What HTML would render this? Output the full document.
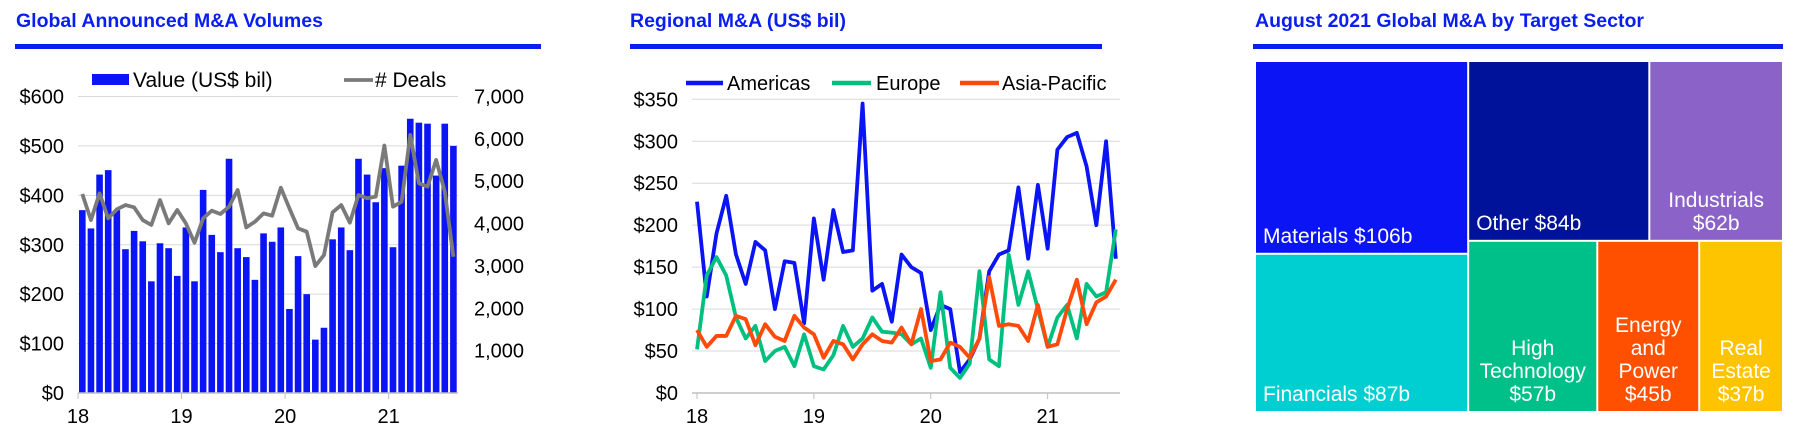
<!DOCTYPE html>
<html><head><meta charset="utf-8"><style>
html,body{margin:0;padding:0;background:#fff;}
body{width:1800px;height:434px;overflow:hidden;position:relative;font-family:"Liberation Sans",Arial,sans-serif;}
svg{position:absolute;left:0;top:0;}
text{font-family:"Liberation Sans",Arial,sans-serif;}
</style></head><body>
<svg id="chart" width="1800" height="434">
<text x="16" y="27" font-size="19.5" font-weight="bold" fill="#0a1ef0">Global Announced M&amp;A Volumes</text>
<rect x="15" y="44" width="526" height="5" fill="#0a1ef0"/>
<text x="630" y="27" font-size="19.5" font-weight="bold" fill="#0a1ef0">Regional M&amp;A (US$ bil)</text>
<rect x="630" y="44" width="472" height="5" fill="#0a1ef0"/>
<text x="1255" y="27" font-size="19.5" font-weight="bold" fill="#0a1ef0">August 2021 Global M&amp;A by Target Sector</text>
<rect x="1253" y="44" width="530" height="5" fill="#0a1ef0"/>
<g id="c1"></g><g id="c2"></g><g id="c3"></g>
</svg>
<script>
const months = 44;
const yearLabels = ["18","19","20","21"];
const volValues = [370,333,442,451,370,291,328,307,226,303,293,237,335,226,411,320,285,474,293,275,229,323,306,335,170,277,200,108,132,311,335,289,474,442,386,455,295,460,555,547,545,440,545,500];
const dealValues = [4698,4083,4713,4123,4336,4438,4383,4083,3967,4556,4004,4320,4004,3547,4123,4304,4226,4399,4793,3909,4044,4241,4186,4847,4359,3886,3808,2996,3255,4265,4438,4020,4675,4597,4635,5842,4399,4517,6094,4950,4872,5502,4753,3216];
const volTicks = [0,100,200,300,400,500,600];
const dealTicks = [1000,2000,3000,4000,5000,6000,7000];
const americas = [228,115,190,235,165,130,180,170,100,157,155,83,208,135,218,168,170,345,122,130,85,165,150,143,75,105,100,25,40,65,145,165,170,245,160,248,172,290,305,310,270,200,300,160];
const europe = [52,140,162,140,90,65,80,38,50,55,32,70,32,28,45,80,55,65,90,73,72,70,58,65,30,120,30,18,35,145,40,32,165,105,145,100,55,90,105,65,130,115,120,195];
const asiaPacific = [75,55,68,68,92,88,57,82,67,62,92,78,70,42,62,58,40,58,70,62,60,78,58,100,38,40,60,55,42,65,138,80,82,80,62,105,55,58,100,135,82,108,115,135];
const regTicks = [0,50,100,150,200,250,300,350];
const sectorNames = ["Materials","Financials","Other","Industrials","High Technology","Energy and Power","Real Estate"];
const sectorValues = [106,87,84,62,57,45,37];

const NS="http://www.w3.org/2000/svg";
function mk(parent,tag,attrs,txt){const e=document.createElementNS(NS,tag);for(const k in attrs)e.setAttribute(k,attrs[k]);if(txt!==undefined)e.textContent=txt;parent.appendChild(e);return e;}
const FS=20;

// ---- Chart 1 ----
(function(){
const g=document.getElementById('c1');
const x0=78,pitch=8.63,yBase=393,yTop=96.5;
const yV=v=>yBase-(v/600)*(yBase-yTop);
const yD=v=>yBase-(v/7000)*(yBase-yTop);
const xC=i=>x0+pitch*(i+0.5);
volTicks.forEach(t=>{
 if(t>0){const l=mk(g,'line',{x1:x0,x2:458,y1:yV(t),y2:yV(t),stroke:'#d9d9d9','stroke-width':1});
 
 }
 const tx=mk(g,'text',{x:64,y:yV(t)+7,'font-size':FS,'text-anchor':'end',fill:'#000'},'$'+t);
 
 
});
dealTicks.forEach(t=>{
 const tx=mk(g,'text',{x:474,y:yD(t)+7,'font-size':FS,fill:'#000'},t.toLocaleString('en-US'));
 
 
});
volValues.forEach((v,i)=>{
 const r=mk(g,'rect',{x:xC(i)-3.3,y:yV(v),width:6.6,height:yBase-yV(v),fill:'#0a14f5'});
 
 
});
const ax=mk(g,'line',{x1:x0,x2:458,y1:yBase,y2:yBase,stroke:'#bfbfbf','stroke-width':1.5});


yearLabels.forEach((lb,k)=>{
 const xx=x0+pitch*12*k;
 mk(g,'line',{x1:xx,x2:xx,y1:yBase,y2:yBase+6,stroke:'#bfbfbf'});
 const tx=mk(g,'text',{x:xx,y:yBase+30,'font-size':FS,'text-anchor':'middle',fill:'#000'},lb);
 
 
});
const pl=mk(g,'polyline',{points:dealValues.map((v,i)=>xC(i)+','+yD(v)).join(' '),fill:'none',stroke:'#7a7a7a','stroke-width':3.8,'stroke-linejoin':'round'});


const lg1=mk(g,'rect',{x:92,y:74,width:37,height:11,fill:'#0a14f5'});


const lt1=mk(g,'text',{x:133,y:87,'font-size':21,fill:'#000'},'Value (US$ bil)');


const lg2=mk(g,'line',{x1:344,x2:373,y1:80,y2:80,stroke:'#7a7a7a','stroke-width':3.8});


const lt2=mk(g,'text',{x:375,y:87,'font-size':21,fill:'#000'},'# Deals');


})();

// ---- Chart 2 ----
(function(){
const g=document.getElementById('c2');
const x0=697,pitch=9.74,yBase=393,yTop=99.3;
const yR=v=>yBase-(v/350)*(yBase-yTop);
const xP=i=>x0+pitch*i;
regTicks.forEach(t=>{
 const l=mk(g,'line',{x1:692,x2:1120,y1:yR(t),y2:yR(t),stroke:t===0?'#bfbfbf':'#d9d9d9','stroke-width':t===0?1.5:1});
 
 
 const tx=mk(g,'text',{x:678,y:yR(t)+7,'font-size':FS,'text-anchor':'end',fill:'#000'},'$'+t);
 
 
});
yearLabels.forEach((lb,k)=>{
 const xx=xP(12*k);
 mk(g,'line',{x1:xx,x2:xx,y1:yBase,y2:yBase+6,stroke:'#bfbfbf'});
 const tx=mk(g,'text',{x:xx,y:yBase+30,'font-size':FS,'text-anchor':'middle',fill:'#000'},lb);
 
 
});
const series=[[americas,'#0a14f5','americas'],[europe,'#00c080','europe'],[asiaPacific,'#ff4a0a','asia-pacific']];
series.forEach(s=>{
 const pl=mk(g,'polyline',{points:s[0].map((v,i)=>xP(i)+','+yR(v)).join(' '),fill:'none',stroke:s[1],'stroke-width':3.8,'stroke-linejoin':'round'});
 
 
});
const legs=[[686,723,727,'Americas','#0a14f5','americas'],[832,871,876,'Europe','#00c080','europe'],[960,999,1002,'Asia-Pacific','#ff4a0a','asia-pacific']];
legs.forEach(L=>{
 const l=mk(g,'line',{x1:L[0],x2:L[1],y1:83,y2:83,stroke:L[4],'stroke-width':4.5});
 
 
 const t=mk(g,'text',{x:L[2],y:90,'font-size':FS,fill:'#000'},L[3]);
 
 
});
})();

// ---- Chart 3 treemap ----
(function(){
const g=document.getElementById('c3');
const X=1255,Y=61,W=528,H=351,gap=2;
const total=sectorValues.reduce((a,b)=>a+b,0);
const colors=['#0a14f5','#00cfd2','#00129a','#8b62c8','#00c08a','#ff5000','#ffc400'];
const c1=sectorValues[0]+sectorValues[1];
const w1=W*c1/total;
const h0=H*sectorValues[0]/c1;
const top=sectorValues[2]+sectorValues[3];
const bot=sectorValues[4]+sectorValues[5]+sectorValues[6];
const rW=W-w1;
const hT=H*top/(top+bot);
const rects=[
 [X,Y,w1,h0],[X,Y+h0,w1,H-h0],
 [X+w1,Y,rW*sectorValues[2]/top,hT],
 [X+w1+rW*sectorValues[2]/top,Y,rW*sectorValues[3]/top,hT]
];
let xx=X+w1;
for(let i=4;i<7;i++){const w=rW*sectorValues[i]/bot;rects.push([xx,Y+hT,w,H-hT]);xx+=w;}
const labels=[
 {lines:[sectorNames[0]+' $'+sectorValues[0]+'b'],anchor:'start',dx:8},
 {lines:[sectorNames[1]+' $'+sectorValues[1]+'b'],anchor:'start',dx:8},
 {lines:[sectorNames[2]+' $'+sectorValues[2]+'b'],anchor:'start',dx:8},
 {lines:['Industrials','$'+sectorValues[3]+'b'],anchor:'middle'},
 {lines:['High','Technology','$'+sectorValues[4]+'b'],anchor:'middle'},
 {lines:['Energy','and','Power','$'+sectorValues[5]+'b'],anchor:'middle'},
 {lines:['Real','Estate','$'+sectorValues[6]+'b'],anchor:'middle'}
];
const names=['materials','financials','other','industrials','high-technology','energy-and-power','real-estate'];
rects.forEach((r,i)=>{
 const rc=mk(g,'rect',{x:r[0]+gap/2,y:r[1]+gap/2,width:r[2]-gap,height:r[3]-gap,fill:colors[i]});
 
 
 const L=labels[i];
 const lh=23;
 const n=L.lines.length;
 const tx=L.anchor==='start'?r[0]+L.dx:r[0]+r[2]/2;
 const yb=r[1]+r[3]-11-(n-1)*lh;
 const t=mk(g,'text',{x:tx,y:yb,'font-size':21,'text-anchor':L.anchor,fill:'#fff'});
 
 
 L.lines.forEach((s,k)=>{mk(t,'tspan',{x:tx,dy:k===0?0:lh},s);});
});
})();
</script>
</body></html>
